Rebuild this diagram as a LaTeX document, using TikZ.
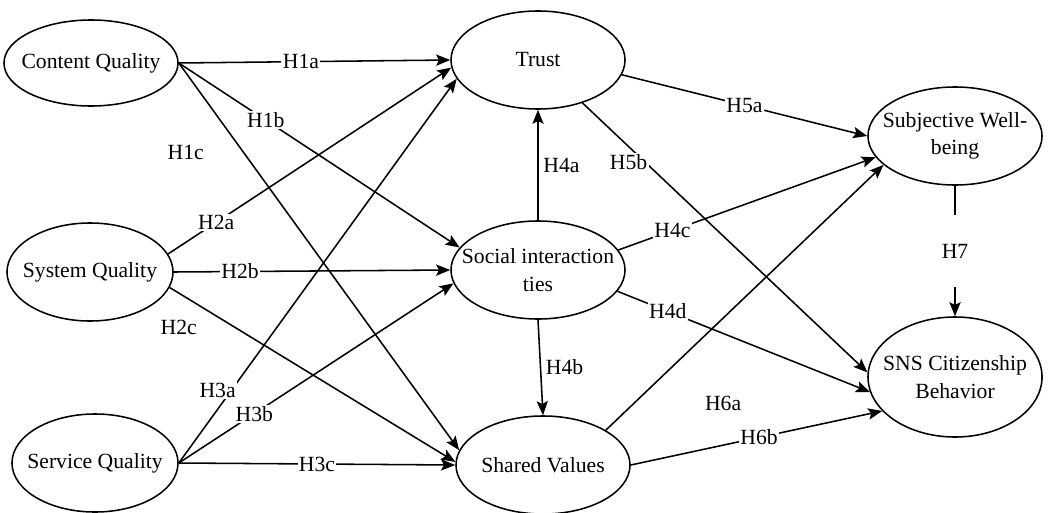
\documentclass[tikz,border=0pt]{standalone}
\usepackage{fontspec}
\setmainfont{Liberation Serif}
\usepackage{tikz}
\usetikzlibrary{arrows.meta,positioning,shapes.geometric}

\begin{document}
\begin{tikzpicture}[x=0.025cm,y=-0.025cm,
        every node/.style={font=\fontsize{15.4}{19.5}\selectfont},
        construct/.style={ellipse,draw,line width=1.1pt,inner sep=0pt,
              minimum width=4.35cm,minimum height=2.45cm,
              label={[align=center]center:#1}},
        link/.style={-{Stealth[length=10pt,width=8pt,inset=2pt]},
              line width=1.1pt},
        hyp/.style={fill=white,inner sep=1pt}]
        \useasboundingbox (0,0) rectangle (1049,512);
        \node[construct={Content Quality},minimum height=2.15cm]
          (cq) at (91,63) {};
        \node[construct={System Quality},minimum width=4.15cm]
          (sq) at (90,272) {};
        \node[construct={Service Quality},minimum width=4.15cm]
          (svq) at (95,463) {};
        \node[construct={Trust}] (trust) at (538,60) {};
        \node[construct={Social interaction\\ ties}] (sit) at (538,270) {};
        \node[construct={Shared Values}] (sv) at (543,465) {};
        \node[construct={Subjective Well-\\being}] (swb) at (955,136) {};
        \node[construct={SNS Citizenship\\Behavior},minimum height=3cm]
          (scb) at (955,377) {};
        \draw[link](cq.east)--node[hyp,pos=0.45] (h1a) {H1a}(trust.west);
        \draw[link](cq.east)--node[hyp,pos=0.31] (h1b) {H1b}(sit.164);
        \draw[link](cq.east)--node[pos=0.23,left=0.85cm] (h1c) {H1c}(sv.170);
        \draw[link](sq.13)--node[hyp,pos=0.17] (h2a) {H2a}(trust.185);
        \draw[link](sq.east)--node[hyp,pos=0.24] (h2b) {H2b}(sit.west);
        \draw[link](sq.349)--node[pos=0.1,below left=0.25cm and -0.1cm]
          (h2c) {H2c}(sv.178);
        \draw[link](svq.east)--node[hyp,pos=0.19,xshift=-0.35cm]
          (h3a) {H3a}(trust.193);
        \draw[link](svq.east)--node[hyp,pos=0.275,inner xsep=6pt]
          (h3b) {H3b}(sit.189);
        \draw[link](svq.east)--node[hyp,pos=0.5] (h3c) {H3c}(sv.west);
        \draw[link](sit.north)--node[right] (h4a) {H4a}(trust.south);
        \draw[link](sit.south)--node[right] (h4b) {H4b}(sv.north);
        \draw[link](sit.14)--node[hyp,pos=0.21] (h4c) {H4c}(swb.195);
        \draw[link](sit.345)--node[hyp,pos=0.2] (h4d) {H4d}(scb.190);
        \draw[link](trust.350)--node[hyp,pos=0.5] (h5a) {H5a}(swb.west);
        \draw[link](trust.316)--node[hyp,pos=0.19,xshift=-0.2cm,
          yshift=-0.2cm] (h5b) {H5b}(scb.177);
        \draw[link](sv.29)--node[pos=0.1,right=1.65cm] (h6a) {H6a}(swb.202);
        \draw[link](sv.east)--node[hyp,pos=0.51] (h6b) {H6b}(scb.205);
        \draw[link](swb.south)--node[hyp,minimum height=1.8cm]
          (h7) {H7}(scb.north);
      \end{tikzpicture}
\end{document}
